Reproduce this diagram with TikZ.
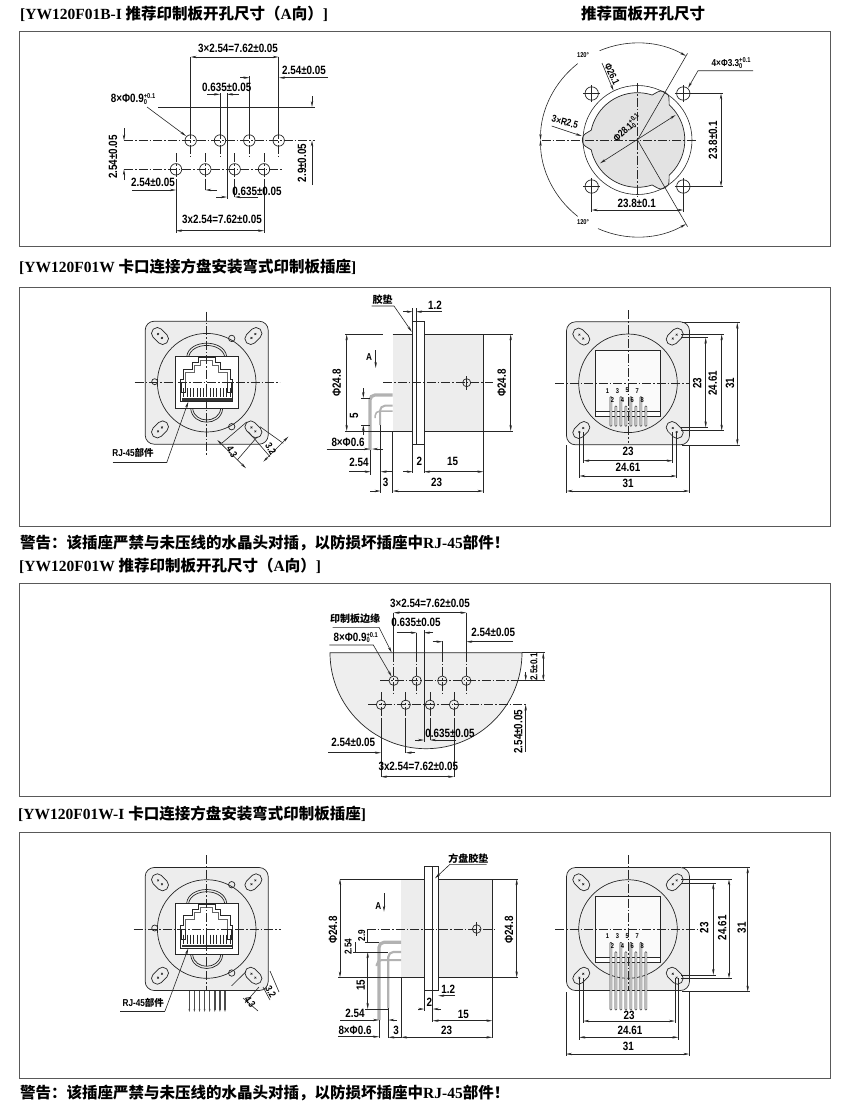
\documentclass[tikz,border=0pt]{standalone}
\usepackage{fontspec}
\usetikzlibrary{arrows.meta}
\setmainfont{Liberation Serif}
\newfontfamily\cjk{Noto Sans CJK SC}
\newfontfamily\dimface{Liberation Sans}[FakeStretch=0.82]
\newcommand{\titlefont}{\fontsize{15.5}{15.5}\selectfont\bfseries}
\newcommand{\dimfont}{\fontsize{12}{12}\selectfont\dimface\bfseries}
\newcommand{\midfont}{\fontsize{10}{10}\selectfont\dimface\bfseries}
\newcommand{\tinyfont}{\fontsize{7}{7}\selectfont\dimface\bfseries}
\newcommand{\tolpair}[2]{\rlap{\raisebox{4pt}{\tinyfont #1}}\raisebox{-1.5pt}{\tinyfont #2}}
\definecolor{platefill}{gray}{0.93}
\definecolor{discfill}{gray}{0.89}
\definecolor{framegray}{gray}{0.35}
\tikzset{
  titletext/.style={anchor=west, inner sep=0pt, font=\titlefont},
  dimtext/.style={inner sep=0pt, font=\dimfont},
  midtext/.style={inner sep=0pt, font=\midfont},
  smalltext/.style={inner sep=0pt, font=\tinyfont},
  framebox/.style={draw=framegray, line width=1pt},
  partline/.style={draw=black!85, line width=0.7pt},
  dimline/.style={draw=black!85, line width=0.6pt, >={Stealth[length=6pt,width=2.4pt]}},
  centerline/.style={draw=black!85, line width=0.6pt, dash pattern=on 9pt off 2pt on 1.5pt off 2pt},
  pinline/.style={draw=gray!60, line width=3.2pt, rounded corners=5pt},
  thinpin/.style={draw=black!75, fill=white, line width=0.6pt, rounded corners=0.8pt}
}
% slot of the flange: x, y, angle
\newcommand{\flangeslot}[3]{
  \begin{scope}[shift={(#1,#2)}, rotate=#3]
    \draw[partline, rounded corners=5.5pt] (-9.5,-5.8) rectangle (9.5,5.8);
    \draw[dimline] (-4,0) -- (-1.5,0) (-2.75,-1.25) -- (-2.75,1.25);
    \draw[dimline] (1.5,0) -- (4,0) (2.75,-1.25) -- (2.75,1.25);
  \end{scope}
}
% square flange with its round body, centred on the scope origin
\newcommand{\flangeplate}{
  \draw[partline, fill=platefill, rounded corners=9pt] (-61.5,-61.5) rectangle (61.5,61.5);
  \draw[partline, fill=platefill] (0,0) circle (49.3);
  \flangeslot{-46.7}{-46.7}{-45}
  \flangeslot{46.7}{-46.7}{45}
  \flangeslot{-46.7}{46.7}{45}
  \flangeslot{46.7}{46.7}{-45}
}
% RJ-45 socket seen from the front
\newcommand{\socketfront}{
  \draw[partline] (-20,-26) .. controls (-18,-44) and (18,-44) .. (20,-26);
  \draw[partline] (-18,-26) .. controls (-15,-41) and (15,-41) .. (18,-26);
  \draw[partline] (-16,26) .. controls (-14,44) and (14,44) .. (16,26);
  \draw[partline] (-14,26) .. controls (-12,41) and (12,41) .. (14,26);
  \draw[partline, fill=white] (-31.7,-26) rectangle (31.7,25.7);
  \draw[partline, line width=0.9pt] (-26,19) -- (-26,-3.3) -- (-23.3,-3.3) -- (-23.3,-13.3) -- (-14,-13.3) -- (-14,-20) -- (-8.3,-20) -- (-8.3,-25) -- (8.3,-25) -- (8.3,-20) -- (14,-20) -- (14,-13.3) -- (23.3,-13.3) -- (23.3,-3.3) -- (26,-3.3) -- (26,19) -- cycle;
  \draw[partline, draw=black!60] (-21,0) -- (-21,-10) -- (-12,-10) -- (-12,-17) -- (-6,-17) -- (-6,-22) -- (6,-22) -- (6,-17) -- (12,-17) -- (12,-10) -- (21,-10) -- (21,0);
  \draw[partline] (-25,0) rectangle (-21,10);
  \draw[partline] (21,0) rectangle (25,10);
  \foreach \i in {-7,...,7} {
    \draw[dimline] (\i*3.3,5.5) -- (\i*3.3,14.5);
  }
  \fill[black!80] (-25,15.5) rectangle (25,18);
  \draw[partline] (25,-44.3) circle (3.2);
  \draw[partline] (25,44) circle (3.2);
  \draw[partline] (-52,-1) circle (3);
}
% socket seen from the back, #1 is how far the pins run down
\newcommand{\socketback}[1]{
  \draw[partline, fill=gray!4] (-32.5,-32.7) rectangle (32.5,28.3);
  \draw[partline, fill=white] (-32.5,28.3) rectangle (32.5,33.3);
  \foreach \i/\ptop/\ly in {0/13.3/7.3,1/22.7/16.7,2/13.3/7.3,3/22.7/16.7,4/13.3/7.3,5/22.7/16.7,6/13.3/7.3,7/22.7/16.7} {
    \draw[thinpin] (-18+\i*5,\ptop) rectangle (-16.2+\i*5,#1);
    \pgfmathtruncatemacro{\pnum}{\i+1}
    \node[smalltext] (pin\pnum) at (-20.5+\i*4.95,\ly) {\pnum};
  }
}

\begin{document}
\begin{tikzpicture}[x=1pt, y=-1pt]
  \useasboundingbox (0,0) rectangle (850,1114);

  % Titles and warnings
  \node[titletext] (titleA) at (20,14) {[YW120F01B-I {\cjk 推荐印制板开孔尺寸（}A{\cjk 向）}]};
  \node[font=\titlefont, inner sep=0pt] (titleB) at (643,14) {\cjk 推荐面板开孔尺寸};
  \node[titletext] (titleC) at (19,267) {[YW120F01W {\cjk 卡口连接方盘安装弯式印制板插座}]};
  \node[titletext] (warnA) at (20,543) {\cjk 警告：该插座严禁与未压线的水晶头对插，以防损坏插座中{\rmfamily\bfseries RJ-45}部件！};
  \node[titletext] (titleD) at (19,566) {[YW120F01W {\cjk 推荐印制板开孔尺寸（}A{\cjk 向）}]};
  \node[titletext] (titleE) at (18,814) {[YW120F01W-I {\cjk 卡口连接方盘安装弯式印制板插座}]};
  \node[titletext] (warnB) at (20,1093) {\cjk 警告：该插座严禁与未压线的水晶头对插，以防损坏插座中{\rmfamily\bfseries RJ-45}部件！};

  % Frames
  \draw[framebox] (19,31) rectangle (830,246);
  \draw[framebox] (19,287) rectangle (830,526);
  \draw[framebox] (19,583) rectangle (830,796);
  \draw[framebox] (19,832) rectangle (830,1078);

  % ---- Panel 1, board holes ----
  \draw[centerline] (124,140.5) -- (315,140.5);
  \draw[centerline] (124,169.3) -- (282,169.3);
  \foreach \hx/\htop in {190.7/57,220/93,249.3/76,278.7/57} {
    \draw[dimline] (\hx,\htop) -- (\hx,130);
    \draw[centerline] (\hx,130) -- (\hx,157);
    \draw[partline] (\hx,140.5) circle (5.7);
  }
  \foreach \hx/\hend in {176/233,205.3/190,234.7/197,264/233} {
    \draw[centerline] (\hx,153) -- (\hx,180);
    \draw[dimline] (\hx,180) -- (\hx,\hend);
    \draw[partline] (\hx,169.3) circle (5.7);
  }
  \draw[dimline] (227,93) -- (227,199);
  \draw[dimline, <->] (190.7,57) -- (278.7,57);
  \node[dimtext] (a1) at (238,48.7) {3×2.54=7.62±0.05};
  \draw[dimline, ->] (328,77.7) -- (279,77.7);
  \draw[dimline, ->] (240,77.7) -- (249.3,77.7);
  \node[dimtext] (a2) at (304,70) {2.54±0.05};
  \draw[dimline, ->] (207,94.3) -- (220,94.3);
  \draw[dimline, ->] (239,94.3) -- (227,94.3);
  \node[dimtext] (a3) at (226.7,87) {0.635±0.05};
  \node[dimtext] (a4) at (129,99) {8×Φ0.9\tolpair{+0.1}{0}};
  \draw[dimline, ->] (147,107) -- (186,136);
  \draw[dimline] (158,107) -- (315,107);
  \draw[dimline, ->] (312,96) -- (312,107);
  \draw[dimline, ->] (312,185) -- (312,140.5);
  \node[dimtext, rotate=90] (a5) at (302,163) {2.9±0.05};
  \draw[dimline, ->] (124,128) -- (124,140.5);
  \draw[dimline, ->] (124,180) -- (124,169.3);
  \node[dimtext, rotate=90] (a6) at (113,157) {2.54±0.05};
  \draw[dimline, ->] (132,190) -- (176,190);
  \draw[dimline, ->] (217,190) -- (205.3,190);
  \node[dimtext] (a7) at (153,182) {2.54±0.05};
  \draw[dimline, ->] (216,197) -- (227,197);
  \draw[dimline, ->] (258,197) -- (234.7,197);
  \node[dimtext] (a8) at (257,191) {0.635±0.05};
  \draw[dimline, <->] (176,230.7) -- (264,230.7);
  \node[dimtext] (a9) at (222,219) {3x2.54=7.62±0.05};

  % ---- Panel 1, panel cut-out ----
  \begin{scope}[shift={(637.5,140)}, y=1pt]
    \filldraw[partline, fill=discfill] (72:47.3) arc[start angle=72, end angle=168, radius=47.3]
      .. controls (172:51) and (174:55) .. (178:55) -- (182:55) .. controls (186:55) and (188:51) .. (192:47.3)
      arc[start angle=192, end angle=288, radius=47.3]
      .. controls (292:51) and (294:55) .. (298:55) -- (302:55) .. controls (306:55) and (308:51) .. (312:47.3)
      arc[start angle=312, end angle=408, radius=47.3]
      .. controls (52:51) and (54:55) .. (58:55) -- (62:55) .. controls (66:55) and (68:51) .. (72:47.3) -- cycle;
    \draw[dimline] (0,0) circle (54.5);
    \foreach \hx/\hy in {-45.8/46.5,45.8/46.5,-45.8/-46.5,45.8/-46.5} {
      \draw[partline] (\hx,\hy) circle (6.7);
      \draw[dimline] (\hx-8.5,\hy) -- (\hx+8.5,\hy) (\hx,\hy-8.5) -- (\hx,\hy+8.5);
    }
    \draw[centerline] (-96,0) -- (59,0);
    \draw[centerline] (0,57) -- (0,-58);
    \draw[dimline] (0,0) -- (60:100);
    \draw[dimline] (0,0) -- (300:100);
    \draw[dimline, ->] (113:97) arc[start angle=113, end angle=60, radius=97];
    \draw[dimline, ->] (128:97) arc[start angle=128, end angle=180, radius=97];
    \draw[dimline, ->] (232:97) arc[start angle=232, end angle=180, radius=97];
    \draw[dimline, ->] (246:97) arc[start angle=246, end angle=300, radius=97];
    \draw[dimline, <->] (-37.5,-23.3) -- (38.2,25);
  \end{scope}
  \node[smalltext] (b1) at (583,55) {120°};
  \node[smalltext] (b2) at (583,222) {120°};
  \node[midtext, rotate=-65] (b3) at (612,74) {Φ26.1};
  \draw[dimline, ->] (602,63) -- (613.5,90.7);
  \node[midtext, rotate=43] (b4) at (624,131) {Φ28.1\tolpair{+0.1}{0}};
  \node[midtext, rotate=-15] (b5) at (565,122) {3×R2.5};
  \draw[dimline, ->] (551.7,126) -- (581.7,136);
  \node[midtext] (b6) at (727,63) {4×Φ3.3\tolpair{+0.1}{0}};
  \draw[dimline, ->] (753,70.7) -- (698,70.7) -- (688,88);
  \draw[dimline] (690,93.5) -- (723,93.5) (690,186.5) -- (723,186.5);
  \draw[dimline, <->] (721,93.5) -- (721,186.5);
  \node[dimtext, rotate=90] (b7) at (713,140) {23.8±0.1};
  \draw[dimline] (591.7,193) -- (591.7,212) (683.3,193) -- (683.3,212);
  \draw[dimline, <->] (591.7,210) -- (683.3,210);
  \node[dimtext] (b8) at (636.7,203) {23.8±0.1};

  % ---- Panel 2, front view ----
  \begin{scope}[shift={(206.7,382.7)}, name prefix=c]
    \flangeplate
    \socketfront
    \draw[centerline] (-72,0) -- (73,0);
    \draw[centerline] (0,-71) -- (0,72);
  \end{scope}
  \draw[dimline, ->] (166.7,462.7) -- (188.3,401.7);
  \draw[dimline] (112.7,462.7) -- (166.7,462.7);
  \node[midtext] (c1) at (133,453) {RJ-45{\cjk\fontsize{9.5}{9.5}\selectfont 部件}};
  \draw[dimline] (246.7,422) -- (221.7,443.3) (257.3,436.7) -- (237.3,460);
  \draw[dimline, <->] (217.3,440) -- (246,468.3);
  \node[midtext, rotate=-60] (c2) at (232,452) {4.3};
  \draw[dimline] (260,426.7) -- (283.3,443.3) (248.3,431.7) -- (270,456.7);
  \draw[dimline, <->] (263.3,461.7) -- (288.3,436.7);
  \node[midtext, rotate=-60] (c3) at (270.7,448.3) {3.2};

  % ---- Panel 2, side view ----
  \fill[platefill] (392.7,334.3) rectangle (412.7,431);
  \fill[platefill] (424,334.3) rectangle (483.3,431);
  \draw[partline] (392.7,334.3) -- (412.7,334.3) (392.7,431) -- (412.7,431);
  \draw[partline] (424,334.3) -- (483.3,334.3) -- (483.3,431) -- (424,431);
  \draw[partline, fill=white] (412.7,321) rectangle (424,444.3);
  \draw[partline] (416,321) -- (416,444.3);
  \draw[pinline] (392.7,395) -- (370,395) -- (370,450);
  \draw[pinline, line width=2pt] (392.7,405.7) -- (380,405.7) -- (380,425);
  \draw[pinline, line width=1.5pt] (392.7,411) -- (375,411) -- (375,418);
  \draw[centerline] (383.3,382.7) -- (493.3,382.7);
  \draw[partline] (466.7,382.7) circle (4);
  \draw[dimline] (466.7,376) -- (466.7,389.5);
  \draw[dimline] (345,334.3) -- (383,334.3) (345,431) -- (392.7,431) (483.3,334.3) -- (513,334.3) (483.3,431) -- (513,431);
  \draw[dimline, <->] (346.7,334.3) -- (346.7,431);
  \draw[dimline, <->] (510.7,334.3) -- (510.7,431);
  \node[dimtext, rotate=90] (d1) at (336.7,383) {Φ24.8};
  \node[dimtext, rotate=90] (d2) at (501.7,383) {Φ24.8};
  \node[midtext] (d3) at (369,356.7) {A};
  \draw[dimline, ->] (375.7,350) -- (375.7,368);
  \node[midtext] (d4) at (382.7,300) {\cjk 胶垫};
  \draw[dimline, ->] (371.7,306) -- (394,306) -- (411.7,331.7);
  \draw[dimline] (412.7,308) -- (412.7,321) (416,308) -- (416,321);
  \draw[dimline, ->] (403.3,311.7) -- (412.7,311.7);
  \draw[dimline, ->] (441.7,311.7) -- (416,311.7);
  \node[dimtext] (d5) at (435,305.7) {1.2};
  \draw[dimline] (361,398) -- (370,398) (361,425) -- (370,425);
  \draw[dimline, ->] (363.3,388) -- (363.3,398);
  \draw[dimline, ->] (363.3,435) -- (363.3,425);
  \node[dimtext, rotate=90] (d6) at (354,416) {5};
  \node[dimtext] (d7) at (348,442) {8×Φ0.6};
  \draw[dimline, ->] (326.7,449) -- (370,449);
  \draw[dimline, ->] (383,449) -- (372,449);
  \node[dimtext] (d8) at (359,462) {2.54};
  \draw[dimline] (370.7,450) -- (370.7,475) (380.7,425) -- (380.7,493);
  \draw[dimline, ->] (349,471.7) -- (370.7,471.7);
  \draw[dimline, ->] (391.7,471.7) -- (380.7,471.7);
  \node[dimtext] (d9) at (385.7,482.7) {3};
  \draw[dimline] (392.7,431) -- (392.7,493) (483.3,431) -- (483.3,493) (412.7,444.3) -- (412.7,473) (424,444.3) -- (424,473);
  \draw[dimline, ->] (370,491) -- (380.7,491);
  \draw[dimline, <->] (392.7,491) -- (483.3,491);
  \node[dimtext] (d10) at (436.7,482.7) {23};
  \draw[dimline, ->] (403,471.7) -- (412.7,471.7);
  \draw[dimline, <->] (424,471.7) -- (483.3,471.7);
  \node[dimtext] (d11) at (419.3,461.7) {2};
  \node[dimtext] (d12) at (452.7,461.7) {15};

  % ---- Panel 2, back view ----
  \begin{scope}[shift={(628,383.3)}, name prefix=e]
    \flangeplate
    \socketback{43}
    \draw[centerline] (-73,0) -- (62,0);
    \draw[centerline] (0,-73) -- (0,60);
  \end{scope}
  \draw[dimline] (682,322.7) -- (740,322.7) (682,445) -- (740,445) (681,334.3) -- (724,334.3) (681,430.7) -- (724,430.7) (681,337.7) -- (708,337.7) (681,427.3) -- (708,427.3);
  \draw[dimline, <->] (705.7,337.7) -- (705.7,427.3);
  \draw[dimline, <->] (721.7,334.3) -- (721.7,430.7);
  \draw[dimline, <->] (737.3,322.7) -- (737.3,445);
  \node[dimtext, rotate=90] (e1) at (697.3,383.3) {23};
  \node[dimtext, rotate=90] (e2) at (712.7,383.3) {24.61};
  \node[dimtext, rotate=90] (e3) at (730,383.3) {31};
  \draw[dimline] (583.3,432) -- (583.3,463) (672.7,432) -- (672.7,463) (579.3,432) -- (579.3,478) (676.7,432) -- (676.7,478) (566.7,445) -- (566.7,493) (689.3,445) -- (689.3,493);
  \draw[dimline, <->] (583.3,460.7) -- (672.7,460.7);
  \draw[dimline, <->] (579.3,476) -- (676.7,476);
  \draw[dimline, <->] (566.7,491) -- (689.3,491);
  \node[dimtext] (e4) at (628,451.5) {23};
  \node[dimtext] (e5) at (628,467.7) {24.61};
  \node[dimtext] (e6) at (628,483.3) {31};

  % ---- Panel 3, board edge and holes ----
  \begin{scope}[shift={(426,652.7)}, y=1pt]
    \draw[partline, fill=discfill!60!white] (-96,0) arc[start angle=180, end angle=360, radius=96] -- cycle;
  \end{scope}
  \draw[centerline] (380,680.7) -- (517,680.7);
  \draw[centerline] (368,704.7) -- (527,704.7);
  \foreach \hx/\htop in {393.7/612.7,416.7/633,442.3/641,466.3/612.7} {
    \draw[dimline] (\hx,\htop) -- (\hx,652.7);
    \draw[centerline] (\hx,652.7) -- (\hx,695);
    \draw[partline] (\hx,680.7) circle (4.7);
  }
  \foreach \hx/\hend in {381/776.7,405.7/753,430/740,454/776.7} {
    \draw[centerline] (\hx,692) -- (\hx,718);
    \draw[dimline] (\hx,718) -- (\hx,\hend);
    \draw[partline] (\hx,704.7) circle (4.7);
  }
  \draw[dimline] (424,630) -- (424,742);
  \draw[dimline, <->] (393.7,612.7) -- (466.3,612.7);
  \node[dimtext] (f1) at (430,603.3) {3×2.54=7.62±0.05};
  \draw[dimline, ->] (396.7,632.7) -- (416.7,632.7);
  \draw[dimline, ->] (433,632.7) -- (424,632.7);
  \node[dimtext] (f2) at (416,622.7) {0.635±0.05};
  \draw[dimline, ->] (513,641.7) -- (466.3,641.7);
  \draw[dimline, ->] (432.7,641.7) -- (442.3,641.7);
  \node[dimtext] (f3) at (493.3,632.3) {2.54±0.05};
  \node[midtext] (f4) at (355,618.3) {\cjk 印制板边缘};
  \draw[dimline, ->] (332.7,627.3) -- (379,627.3) -- (391.7,652.7);
  \node[dimtext] (f5) at (351.7,637.5) {8×Φ0.9\tolpair{+0.1}{0}};
  \draw[dimline, ->] (329.3,645) -- (373.3,645) -- (391.7,676.7);
  \draw[dimline] (521.7,652.7) -- (545,652.7) (517,680.7) -- (545,680.7);
  \draw[dimline, <->] (543.3,652.7) -- (543.3,680.7);
  \node[midtext, rotate=90] (f6) at (534,667) {2.5±0.1};
  \draw[dimline, ->] (525.7,672) -- (525.7,680.7);
  \draw[dimline, ->] (525.7,752) -- (525.7,704.7);
  \node[dimtext, rotate=90] (f7) at (518.3,731.7) {2.54±0.05};
  \draw[dimline, ->] (328.3,752.7) -- (381,752.7);
  \draw[dimline, ->] (415,752.7) -- (405.7,752.7);
  \node[dimtext] (f8) at (353.3,742.3) {2.54±0.05};
  \draw[dimline, ->] (415,740) -- (424,740);
  \draw[dimline, ->] (456,740) -- (430,740);
  \node[dimtext] (f9) at (450,733.3) {0.635±0.05};
  \draw[dimline, <->] (381,776.7) -- (454,776.7);
  \node[dimtext] (f10) at (418.3,766) {3x2.54=7.62±0.05};

  % ---- Panel 4, front view ----
  \foreach \i in {0,...,7} {
    \draw[pinline, draw=black!70, line width=1.4pt, -{Stealth[length=3pt,width=1.6pt]}] (189.3+\i*5.1,989) -- (189.3+\i*5.1,1012);
  }
  \begin{scope}[shift={(206.7,929)}, name prefix=g]
    \flangeplate
    \socketfront
    \draw[centerline] (-73,0) -- (74,0);
    \draw[centerline] (0,-74) -- (0,61);
  \end{scope}
  \draw[dimline, ->] (165,1011) -- (188.3,948.3);
  \draw[dimline] (120,1011) -- (165,1011);
  \node[midtext] (g1) at (143.3,1003.3) {RJ-45{\cjk\fontsize{9.5}{9.5}\selectfont 部件}};
  \draw[dimline] (231.7,985.7) -- (246,971.7) (245,1003) -- (259,987);
  \draw[dimline] (243,998) -- (258,1011);
  \node[midtext, rotate=-55] (g2) at (250,1001.7) {4.3};
  \draw[dimline] (263,987) -- (270,1000) (270,971) -- (279,992);
  \node[midtext, rotate=-60] (g3) at (270.7,991.7) {3.2};

  % ---- Panel 4, side view ----
  \fill[platefill] (401,879) rectangle (424.3,977.3);
  \fill[platefill] (438.3,879) rectangle (492.3,977.3);
  \draw[partline] (401,879) -- (424.3,879) (401,977.3) -- (424.3,977.3);
  \draw[partline] (438.3,879) -- (492.3,879) -- (492.3,977.3) -- (438.3,977.3);
  \draw[partline, fill=white] (424.3,866.7) rectangle (438.3,990);
  \draw[partline] (432.3,866.7) -- (432.3,990);
  \draw[pinline] (401,942.3) -- (379,942.3) -- (379,1020);
  \draw[pinline, line width=2.2pt] (401,952) -- (388.3,952) -- (388.3,1008.3);
  \draw[pinline, line width=2pt] (401,960) -- (376.7,960) -- (376.7,966);
  \draw[centerline] (366.7,929) -- (496.7,929);
  \draw[partline] (476.7,929) circle (4.3);
  \draw[dimline] (476.7,922) -- (476.7,936);
  \draw[dimline] (340,879) -- (401,879) (338,977.3) -- (401,977.3) (492.3,879) -- (518.3,879) (492.3,977.3) -- (518.3,977.3);
  \draw[dimline, <->] (340,879) -- (340,977.3);
  \draw[dimline, <->] (516.7,879) -- (516.7,977.3);
  \node[dimtext, rotate=90] (h1) at (333,930) {Φ24.8};
  \node[dimtext, rotate=90] (h2) at (509,930) {Φ24.8};
  \node[midtext] (h3) at (378.3,905.7) {A};
  \draw[dimline, ->] (384,893.3) -- (384,911.7);
  \node[midtext] (h4) at (468.3,858.3) {\cjk 方盘胶垫};
  \draw[dimline, ->] (486.7,864.3) -- (450,864.3) -- (435,878.3);
  \draw[dimline] (365,942.3) -- (379,942.3) (353,952) -- (388,952) (365,1009) -- (388.3,1009);
  \draw[dimline] (367.7,929) -- (367.7,942.3);
  \draw[dimline] (355,942.3) -- (355,952);
  \node[midtext, rotate=90] (h5) at (361.7,935.7) {2.9};
  \node[midtext, rotate=90] (h6) at (348.3,946.7) {2.54};
  \draw[dimline, <->] (367.7,952) -- (367.7,1009);
  \node[dimtext, rotate=90] (h7) at (360.7,985) {15};
  \node[dimtext] (h8) at (355,1013.3) {2.54};
  \draw[dimline, ->] (340,1020) -- (379,1020);
  \draw[dimline, ->] (397,1020) -- (388.3,1020);
  \node[dimtext] (h9) at (355,1030) {8×Φ0.6};
  \draw[dimline, ->] (338.3,1036.7) -- (379,1036.7);
  \draw[dimline] (379,1020) -- (379,1038) (388.3,1008) -- (388.3,1038) (401,977.3) -- (401,1038) (492.3,977.3) -- (492.3,1038);
  \draw[dimline, ->] (401,1037.3) -- (388.3,1037.3);
  \draw[dimline, <->] (401,1037.3) -- (492.3,1037.3);
  \node[dimtext] (h10) at (396,1030) {3};
  \node[dimtext] (h11) at (446.7,1030) {23};
  \draw[dimline] (432.7,990) -- (432.7,1022) (424.3,990) -- (424.3,1011);
  \draw[dimline, <->] (432.7,1020.7) -- (492.3,1020.7);
  \node[dimtext] (h12) at (463.3,1014) {15};
  \draw[dimline, ->] (418,1009) -- (424.3,1009);
  \draw[dimline, ->] (440.7,1009) -- (432.7,1009);
  \node[dimtext] (h13) at (429.3,1002.3) {2};
  \draw[dimline, ->] (455,995.7) -- (438.3,995.7);
  \node[dimtext] (h14) at (448.3,989.3) {1.2};

  % ---- Panel 4, back view ----
  \begin{scope}[shift={(628,929)}, name prefix=k]
    \flangeplate
    \socketback{81}
    \draw[centerline] (-73,0) -- (76,0);
    \draw[centerline] (0,-74) -- (0,62);
  \end{scope}
  \draw[dimline] (682,867.3) -- (750,867.3) (682,991.7) -- (750,991.7) (681,879.3) -- (732,879.3) (681,978.3) -- (732,978.3) (681,883.3) -- (716,883.3) (681,975) -- (716,975);
  \draw[dimline, <->] (713.3,883.3) -- (713.3,975);
  \draw[dimline, <->] (729,879.3) -- (729,978.3);
  \draw[dimline, <->] (747.7,867.3) -- (747.7,991.7);
  \node[dimtext, rotate=90] (k1) at (704.3,927.7) {23};
  \node[dimtext, rotate=90] (k2) at (722.3,927.7) {24.61};
  \node[dimtext, rotate=90] (k3) at (741.7,927.7) {31};
  \draw[dimline] (583.3,978) -- (583.3,1023) (675,978) -- (675,1023) (579.3,978) -- (579.3,1040) (678.3,978) -- (678.3,1040) (566,992) -- (566,1056) (689.3,992) -- (689.3,1056);
  \draw[dimline, <->] (583.3,1021) -- (675,1021);
  \draw[dimline, <->] (579.3,1037.3) -- (678.3,1037.3);
  \draw[dimline, <->] (566,1054) -- (689.3,1054);
  \node[dimtext] (k4) at (629,1015) {23};
  \node[dimtext] (k5) at (630,1030.3) {24.61};
  \node[dimtext] (k6) at (628.3,1046.7) {31};
\end{tikzpicture}
\end{document}
